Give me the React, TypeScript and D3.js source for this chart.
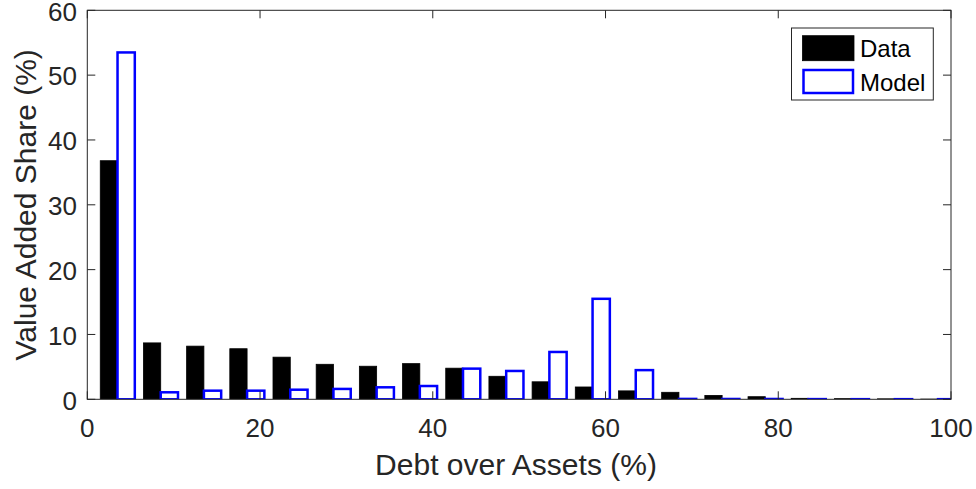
import React from "react";
import * as d3 from "d3";

const dataX = [2.5, 7.5, 12.5, 17.5, 22.5, 27.5, 32.5, 37.5, 42.5, 47.5, 52.5, 57.5, 62.5, 67.5, 72.5, 77.5, 82.5, 87.5, 92.5, 97.5];
const modelX = [4.5, 9.5, 14.5, 19.5, 24.5, 29.5, 34.5, 39.5, 44.5, 49.5, 54.5, 59.5, 64.5, 69.5, 74.5, 79.5, 84.5, 89.5, 94.5, 99.5];
const dataValues = [36.8, 8.7, 8.2, 7.8, 6.5, 5.4, 5.1, 5.5, 4.8, 3.55, 2.7, 1.9, 1.3, 1.08, 0.6, 0.4, 0.15, 0.1, 0.07, 0.03];
const modelValues = [53.5, 1.08, 1.33, 1.33, 1.48, 1.6, 1.85, 2.05, 4.73, 4.37, 7.3, 15.5, 4.5, 0.06, 0.05, 0.05, 0.03, 0.02, 0.02, 0.02];
const xTicks = [0, 20, 40, 60, 80, 100];
const yTicks = [0, 10, 20, 30, 40, 50, 60];
const seriesNames = ["Data", "Model"];
const barWidth = 2;

const W = 976;
const H = 489;
const M = { left: 87.3, top: 10.3, right: 951, bottom: 399.3 };
const TXT = "#262626";
const BLUE = "#0000ff";
const FONT = "Arial, 'Liberation Sans', Helvetica, sans-serif";

export default function App() {
  const x = d3.scaleLinear().domain([0, 100]).range([M.left, M.right]);
  const y = d3.scaleLinear().domain([0, 60]).range([M.bottom, M.top]);
  const tickLen = 8;

  return (
    <div style={{ position: "fixed", left: 0, top: 0 }}>
      <svg width={W} height={H} style={{ display: "block", background: "#fff" }} fontFamily={FONT}>
        <defs>
          <clipPath id="plot">
            <rect x={M.left} y={M.top} width={M.right - M.left} height={M.bottom - M.top} />
          </clipPath>
        </defs>
        <rect x={0} y={0} width={W} height={H} fill="#fff" />
        <g clipPath="url(#plot)">
          {dataValues.map((v, i) => (
            <rect
              key={"d" + i}
              x={x(dataX[i] - barWidth / 2)}
              y={y(v)}
              width={x(dataX[i] + barWidth / 2) - x(dataX[i] - barWidth / 2)}
              height={y(0) - y(v)}
              fill="#000"
              stroke="#000"
              strokeWidth={0.8}
            />
          ))}
          {modelValues.map((v, i) => (
            <rect
              key={"m" + i}
              x={x(modelX[i] - barWidth / 2)}
              y={y(v)}
              width={x(modelX[i] + barWidth / 2) - x(modelX[i] - barWidth / 2)}
              height={y(0) - y(v)}
              fill="#fff"
              stroke={BLUE}
              strokeWidth={2.5}
            />
          ))}
        </g>
        {/* box */}
        <rect x={M.left} y={M.top} width={M.right - M.left} height={M.bottom - M.top} fill="none" stroke={TXT} strokeWidth={1} />
        {/* y ticks */}
        {yTicks.map((t) => (
          <g key={"y" + t}>
            <line x1={M.left} x2={M.left + tickLen} y1={y(t)} y2={y(t)} stroke={TXT} strokeWidth={1} />
            <line x1={M.right} x2={M.right - tickLen} y1={y(t)} y2={y(t)} stroke={TXT} strokeWidth={1} />
            <text x={77} y={y(t) + 10.3} textAnchor="end" fontSize={26} fill={TXT}>
              {t}
            </text>
          </g>
        ))}
        {/* x ticks */}
        {xTicks.map((t) => (
          <g key={"x" + t}>
            <line x1={x(t)} x2={x(t)} y1={M.bottom} y2={M.bottom - tickLen} stroke={TXT} strokeWidth={1} />
            <line x1={x(t)} x2={x(t)} y1={M.top} y2={M.top + tickLen} stroke={TXT} strokeWidth={1} />
            <text x={x(t)} y={437} textAnchor="middle" fontSize={26} fill={TXT}>
              {t}
            </text>
          </g>
        ))}
        {/* axis labels */}
        <text x={516} y={474.5} textAnchor="middle" fontSize={30} fill={TXT}>
          Debt over Assets (%)
        </text>
        <text
          transform={`translate(35.5, ${(M.top + M.bottom) / 2}) rotate(-90)`}
          textAnchor="middle"
          fontSize={30}
          fill={TXT}
        >
          Value Added Share (%)
        </text>
        {/* legend */}
        <rect x={791.5} y={28} width={141.8} height={72} fill="#fff" stroke={TXT} strokeWidth={1} />
        <rect x={802.5} y={35.7} width={51.5} height={25} fill="#000" stroke="#000" strokeWidth={0.8} />
        <rect x={803.5} y={70} width={49.5} height={23} fill="#fff" stroke={BLUE} strokeWidth={2.5} />
        <text x={860} y={56.7} fontSize={24} fill="#000">
          {seriesNames[0]}
        </text>
        <text x={860} y={90.5} fontSize={24} fill="#000">
          {seriesNames[1]}
        </text>
      </svg>
    </div>
  );
}
